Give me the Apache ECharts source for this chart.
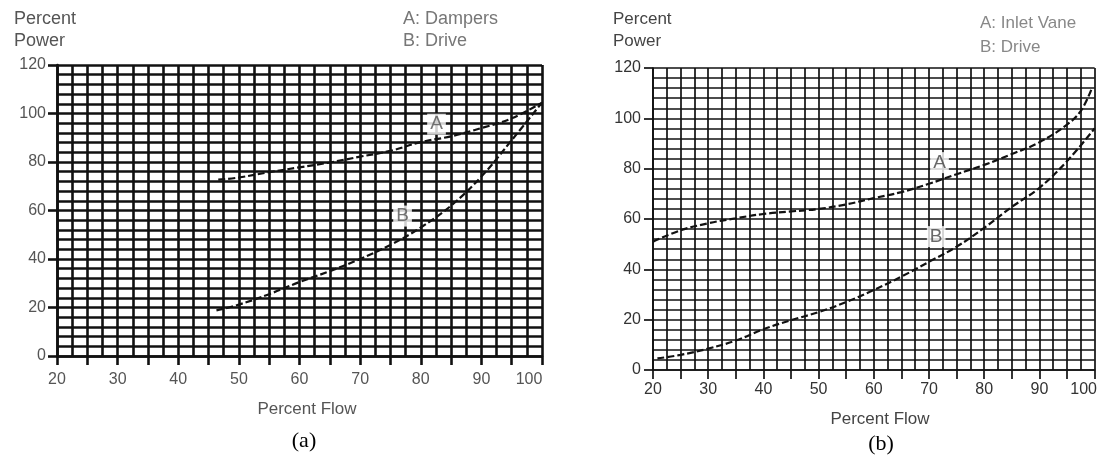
<!DOCTYPE html>
<html>
<head>
<meta charset="utf-8">
<script src="https://cdn.jsdelivr.net/npm/echarts@6/dist/echarts.min.js"></script>
<style>
html,body{margin:0;padding:0;background:#fff;}
#c{width:1100px;height:461px;}
</style>
</head>
<body>
<div id="c"></div>
<script>
// Panel (a): Dampers vs Drive
const aFlowA  = [46.6, 50, 55, 60, 65, 70, 75, 80, 85, 90, 95, 100];
const aPowerA = [72.7, 73.6, 75.8, 77.8, 79.8, 82.2, 84.6, 88.2, 90.6, 94, 98, 104.5];
const aFlowB  = [46.3, 50, 55, 60, 65, 70, 75, 80, 85, 90, 95, 100];
const aPowerB = [18.8, 21.2, 25.5, 30.5, 35, 40, 45.8, 53, 62, 74, 89, 104.5];
// Panel (b): Inlet Vane vs Drive
const bFlowA  = [20, 25, 30, 35, 40, 45, 50, 55, 60, 65, 70, 75, 80, 85, 90, 95, 97.5, 99.5];
const bPowerA = [51, 55.5, 58.3, 60.3, 62, 63, 64, 65.8, 68.3, 70.7, 74, 77.8, 81.5, 85.8, 90.5, 97.5, 103, 112];
const bFlowB  = [20.8, 25, 30, 35, 40, 45, 50, 55, 60, 65, 70, 75, 80, 85, 90, 95, 100];
const bPowerB = [4.6, 6, 8.5, 11.7, 16.2, 19.8, 23, 27, 31.8, 37.1, 43, 49, 56.5, 64.8, 72.4, 83, 96];
// curve letter positions [flow, power]
const aLabelA = [82.6, 95.6], aLabelB = [77, 57.7];
const bLabelA = [71.9, 82.4], bLabelB = [71.3, 53];
// axis settings
const xMin = 20, xMax = 100, xStep = 5, yMin = 0, yMax = 120, yStep = 20;
const legendA = ['A: Dampers', 'B: Drive'];
const legendB = ['A: Inlet Vane', 'B: Drive'];

const zip = (xs, ys) => xs.map((x, i) => [x, ys[i]]);
const chart = echarts.init(document.getElementById('c'));
const font = 'Liberation Sans, Arial, sans-serif';

function xAx(gi, lw, lblColor, fs, margin, shift) {
  return {
    type: 'value', gridIndex: gi, min: xMin, max: xMax, interval: xStep,
    axisLine: {show: true, onZero: false, lineStyle: {color: '#111', width: lw}},
    axisTick: {show: true, length: 9, lineStyle: {color: '#111', width: lw}},
    axisLabel: {color: lblColor, fontSize: fs, fontFamily: font, margin: margin,
      formatter: v => (v === xMax ? '{s|' + v + '}' : (v % 10 === 0 ? String(v) : '')),
      rich: {s: {color: lblColor, fontSize: fs, fontFamily: font, padding: [0, shift, 0, 0]}}},
    splitLine: {show: true, lineStyle: {color: '#111', width: lw}},
    minorTick: {show: false, splitNumber: 2},
    minorSplitLine: {show: true, lineStyle: {color: '#111', width: lw}}
  };
}
function yAx(gi, lw, lblColor, fs, margin) {
  return {
    type: 'value', gridIndex: gi, min: yMin, max: yMax, interval: yStep,
    axisLine: {show: true, lineStyle: {color: '#111', width: lw}},
    axisTick: {show: true, length: 9, lineStyle: {color: '#111', width: lw}},
    axisLabel: {color: lblColor, fontSize: fs, fontFamily: font, margin: margin},
    splitLine: {show: true, lineStyle: {color: '#111', width: lw}},
    minorTick: {show: false, splitNumber: 5},
    minorSplitLine: {show: true, lineStyle: {color: '#111', width: lw}}
  };
}
function curve(xi, data) {
  return {type: 'line', xAxisIndex: xi, yAxisIndex: xi, data: data, smooth: 0.4,
    symbol: 'none', silent: true,
    lineStyle: {color: '#111', width: 2.2, type: [7, 3]}, z: 5};
}
function letters(xi, pts, names, color) {
  return {type: 'scatter', xAxisIndex: xi, yAxisIndex: xi, symbolSize: 0, z: 6,
    data: pts.map((p, i) => ({value: p, name: names[i]})),
    label: {show: true, position: 'inside', formatter: p => p.name,
      color: color, fontSize: 19, fontFamily: font,
      backgroundColor: '#fff', padding: [1, 3]}};
}
function txt(x, y, t, opt) {
  return {type: 'text', x: x, y: y,
    style: Object.assign({text: t, fill: '#444', font: '17px ' + font, verticalAlign: 'middle'}, opt || {})};
}

chart.setOption({
  animation: false,
  backgroundColor: '#fff',
  grid: [
    {left: 57, right: 558, top: 65, bottom: 105},
    {left: 653, right: 5, top: 68, bottom: 91}
  ],
  xAxis: [xAx(0, 2.6, '#555', 16, 16, 26), xAx(1, 1.7, '#333', 16, 12, 22)],
  yAxis: [yAx(0, 2.6, '#555', 16, 11), yAx(1, 1.7, '#333', 16, 12)],
  series: [
    curve(0, zip(aFlowA, aPowerA)),
    curve(0, zip(aFlowB, aPowerB)),
    curve(1, zip(bFlowA, bPowerA)),
    curve(1, zip(bFlowB, bPowerB)),
    letters(0, [aLabelA, aLabelB], ['A', 'B'], '#555'),
    letters(1, [bLabelA, bLabelB], ['A', 'B'], '#444')
  ],
  graphic: [
    txt(14, 19, 'Percent', {fill: '#555', font: '18px ' + font}),
    txt(14, 41, 'Power', {fill: '#555', font: '18px ' + font}),
    txt(403, 19, legendA[0], {fill: '#777', font: '18px ' + font}),
    txt(403, 41, legendA[1], {fill: '#777', font: '18px ' + font}),
    txt(307, 409, 'Percent Flow', {fill: '#555', font: '17px ' + font, align: 'center'}),
    txt(304, 441, '(a)', {fill: '#000', font: '22px "Liberation Serif", "Times New Roman", serif', align: 'center'}),
    txt(613, 19, 'Percent', {fill: '#444', font: '17px ' + font}),
    txt(613, 41, 'Power', {fill: '#444', font: '17px ' + font}),
    txt(980, 23, legendB[0], {fill: '#888', font: '17px ' + font}),
    txt(980, 47, legendB[1], {fill: '#888', font: '17px ' + font}),
    txt(880, 419, 'Percent Flow', {fill: '#444', font: '17px ' + font, align: 'center'}),
    txt(881, 444, '(b)', {fill: '#000', font: '22px "Liberation Serif", "Times New Roman", serif', align: 'center'})
  ]
});
</script>
</body>
</html>
